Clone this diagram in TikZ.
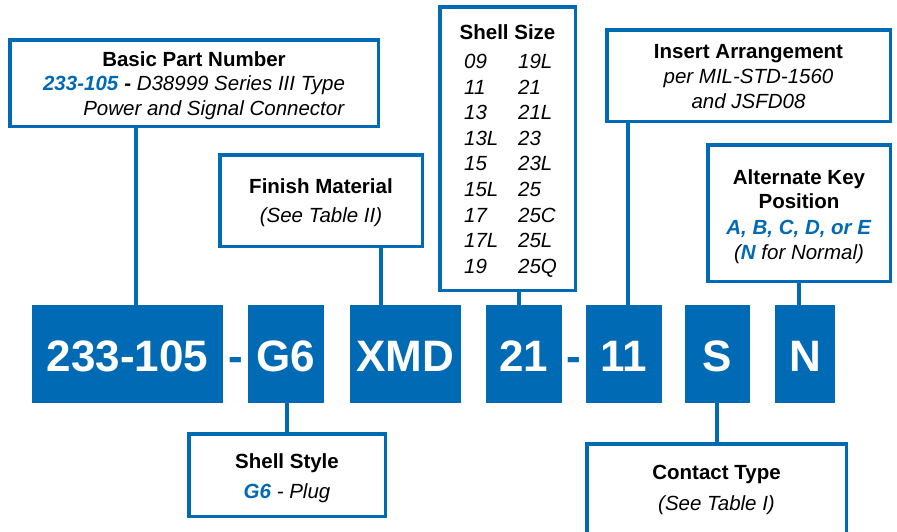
\documentclass[tikz,border=0pt]{standalone}
\usepackage{fontspec}
\setmainfont{Liberation Sans}
\usepackage{xcolor}
\usepackage{array}
\usetikzlibrary{positioning}
\definecolor{partblue}{RGB}{0,106,180}
\newcommand{\hl}[1]{\textcolor{partblue}{\textbf{\textit{#1}}}}
\newcommand{\droptext}[2]{\raisebox{#1}[\height][\depth]{#2}}

\begin{document}
\begin{tikzpicture}[x=1pt, y=-1pt,
	label box/.style={draw=partblue, line width=3.5pt, fill=white, inner sep=0pt, align=center, font=\fontsize{20.5}{24.5}\selectfont},
	code box/.style={fill=partblue, text=white, inner sep=0pt, minimum height=98pt, text height=34pt, text depth=0pt, font=\fontsize{44}{44}\selectfont\bfseries},
	code dash/.style={text=partblue, inner sep=0pt, text height=34pt, text depth=0pt, font=\fontsize{44}{44}\selectfont\bfseries},
	link/.style={draw=partblue, line width=4pt}]
			%\draw[help lines] (0,0) grid (897,531);
			\clip (0,0) rectangle (897,531);

			% part number blocks
			\node[code box, minimum width=191pt] (pn) at (127.5,354) {233-105};
			\node[code dash] (dash1) at (236,354) {-};
			\node[code box, minimum width=76pt] (g6) at (286,354) {G6};
			\node[code box, minimum width=111pt] (xmd) at (405.5,354) {XMD};
			\node[code box, minimum width=76pt] (s21) at (524,354) {21};
			\node[code dash] (dash2) at (574,354) {-};
			\node[code box, minimum width=76pt] (s11) at (624,354) {11};
			\node[code box, minimum width=65pt] (cs) at (717.5,354) {S};
			\node[code box, minimum width=60pt] (kn) at (805,354) {N};

			% description boxes
			\node[label box, minimum width=368.5pt, minimum height=86.5pt] (bpn) at (194,83)
				{\droptext{-3pt}{\begin{tabular}{@{}r@{}}\multicolumn{1}{@{}c@{}}{\textbf{Basic Part Number}}\\
				\hl{233-105} \textbf{-} \textit{D38999 Series III Type}\\
				\textit{Power and Signal Connector}\end{tabular}}};
			\node[label box, minimum width=202.5pt, minimum height=91.5pt] (fin) at (321,200.5)
				{\droptext{-3pt}{\begin{tabular}{@{}c@{}}\textbf{Finish Material}\\[4.5pt]\textit{(See Table II)}\end{tabular}}};
			\node[label box, minimum width=135.5pt, minimum height=283.5pt] (ssz) at (507.5,148.5)
				{\fontsize{20.5}{25.6}\selectfont
				\droptext{-3pt}{\hspace*{6pt}\begin{tabular}{@{}>{\itshape}p{54pt}@{}>{\itshape}l@{}}
				\multicolumn{2}{@{}c@{}}{\hspace*{-6pt}\textbf{Shell Size}}\\[3pt]
				09 & 19L\\ 11 & 21\\ 13 & 21L\\ 13L & 23\\ 15 & 23L\\
				15L & 25\\ 17 & 25C\\ 17L & 25L\\ 19 & 25Q
				\end{tabular}}};
			\node[label box, minimum width=283.5pt, minimum height=91.5pt] (ins) at (748.5,75.5)
				{\droptext{-3pt}{\begin{tabular}{@{}c@{}}\textbf{Insert Arrangement}\\[0.5pt]\textit{per MIL-STD-1560}\\[0.5pt]\textit{and JSFD08}\end{tabular}}};
			\node[label box, minimum width=182.5pt, minimum height=136.5pt] (alt) at (799,213)
				{\droptext{-4pt}{\begin{tabular}{@{}c@{}}\textbf{Alternate Key}\\\textbf{Position}\\[1pt]\hl{A, B, C, D, or E}\\[0.5pt]\textit{(\hl{N} for Normal)}\end{tabular}}};
			\node[label box, minimum width=196.5pt, minimum height=82.5pt] (sty) at (287,475)
				{\droptext{-4pt}{\begin{tabular}{@{}c@{}}\textbf{Shell Style}\\[5.5pt]\hl{G6} \textit{- Plug}\end{tabular}}};
			\node[label box, minimum width=259.5pt, minimum height=90.5pt] (con) at (716.5,489)
				{\droptext{-1pt}{\begin{tabular}{@{}c@{}}\textbf{Contact Type}\\[6.5pt]\textit{(See Table I)}\end{tabular}}};

			% connectors
			\draw[link] ([xshift=-58pt]bpn.south) -- ([xshift=-58pt]bpn.south |- pn.north);
			\draw[link] ([xshift=60pt]fin.south) -- ([xshift=60pt]fin.south |- xmd.north);
			\draw[link] ([xshift=11.5pt]ssz.south) -- ([xshift=11.5pt]ssz.south |- s21.north);
			\draw[link] ([xshift=-120.5pt]ins.south) -- ([xshift=-120.5pt]ins.south |- s11.north);
			\draw[link] (alt.south) -- (alt.south |- kn.north);
			\draw[link] (sty.north) -- (sty.north |- g6.south);
			\draw[link] (con.north) -- (con.north |- cs.south);
		\end{tikzpicture}
\end{document}
